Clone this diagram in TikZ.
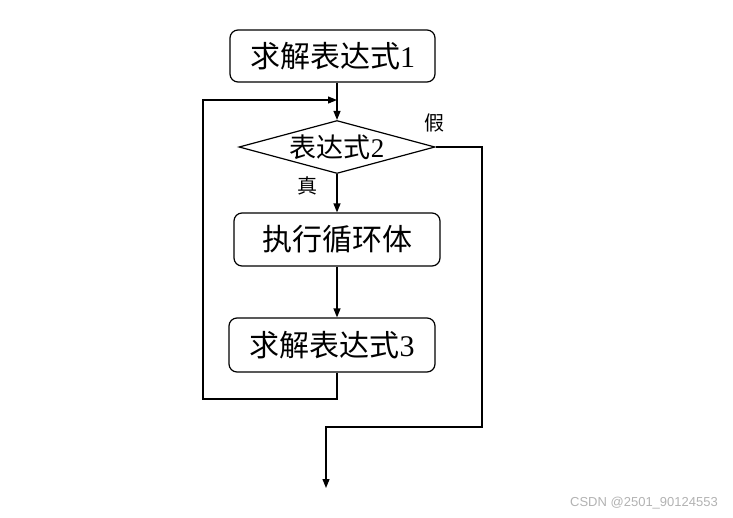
\documentclass[tikz,border=0pt]{standalone}
\usepackage{fontspec}
\setmainfont{Liberation Serif}
\newfontfamily\cjk{Noto Sans CJK SC}
\newfontfamily\wmfont{Liberation Sans}
\usetikzlibrary{arrows.meta,shapes.geometric}
\begin{document}
\begin{tikzpicture}[x=1pt,y=-1pt,
  line width=1.2pt,
  arr/.style={-{Triangle[length=9pt,width=7pt]}},
  procbox/.style={draw,rounded corners=8pt,inner sep=0pt,
    font=\fontsize{30}{32}\selectfont},
  decide/.style={draw,diamond,shape aspect=3.7,inner sep=0pt,
    minimum width=196pt,minimum height=53pt,font=\fontsize{27}{29}\selectfont},
  lbl/.style={font=\fontsize{20}{22}\selectfont\cjk,inner sep=0pt}]
\useasboundingbox (0,0) rectangle (733,517);
\node[procbox,minimum width=205pt,minimum height=52pt] (b1) at (332.5,56) {{\cjk 求解表达式}1};
\node[decide] (d) at (337,147) {{\cjk 表达式}2};
\node[procbox,minimum width=206pt,minimum height=53pt] (b2) at (337,239.5) {\cjk 执行循环体};
\node[procbox,minimum width=206pt,minimum height=54pt] (b3) at (332,345) {{\cjk 求解表达式}3};
\node[lbl] (f) at (434,123) {假};
\node[lbl] (t) at (307,186) {真};
\coordinate (j) at (337,100);
\coordinate (lb) at (203,399);
\coordinate (lt) at (203,100);
\coordinate (r1) at (482,147);
\coordinate (r2) at (482,427);
\coordinate (e1) at (326,427);
\coordinate (e2) at (326,488);
\draw[arr] (d.north |- b1.south) -- (d.north);
\draw[arr] (d.south) -- (b2.north);
\draw[arr] (b2.south) -- (b2.south |- b3.north);
\draw[arr] (j |- b3.south) |- (lb) -- (lt) -- (j);
\draw[arr] (d.east) -- (r1) -- (r2) -- (e1) -- (e2);
\node[font=\fontsize{13}{15}\selectfont\wmfont,text=black!30,inner sep=0pt] (wm) at (644,503) {CSDN @2501\_90124553};
\end{tikzpicture}
\end{document}
